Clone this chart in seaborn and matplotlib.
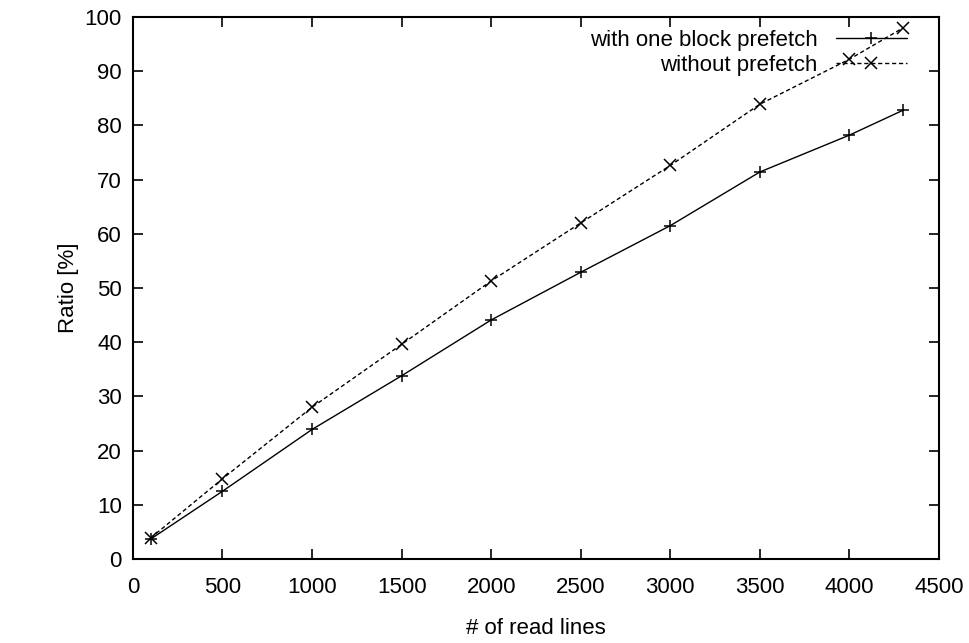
import numpy as np
import matplotlib.pyplot as plt
import seaborn as sns
import pandas as pd

sns.set_style("ticks")
plt.rcParams['font.family'] = ['Liberation Sans', 'DejaVu Sans']
plt.rcParams['text.color'] = 'black'
plt.rcParams['axes.labelcolor'] = 'black'

read_lines = [100, 500, 1000, 1500, 2000, 2500, 3000, 3500, 4000, 4300]
with_prefetch = [3.7, 12.5, 23.9, 33.8, 44.1, 52.9, 61.5, 71.4, 78.2, 82.8]
without_prefetch = [3.9, 14.8, 28.0, 39.6, 51.3, 62.0, 72.6, 83.9, 92.2, 98.0]
labels = ["with one block prefetch", "without prefetch"]

df = pd.DataFrame({"x": read_lines * 2,
                   "y": with_prefetch + without_prefetch,
                   "series": [labels[0]] * len(read_lines) + [labels[1]] * len(read_lines)})

fig = plt.figure(figsize=(9.7, 6.43), dpi=100)
ax = fig.add_axes([0.137, 0.1306, 0.831, 0.843])

sns.lineplot(data=df, x="x", y="y", hue="series", style="series",
             palette=["black", "black"], markers=["+", "x"],
             dashes=[(None, None), (3, 2)], linewidth=1.0, markersize=9,
             markeredgewidth=1.1, markeredgecolor="black", ax=ax)

ax.set_xlim(0, 4500)
ax.set_ylim(0, 100)
ax.set_xticks(np.arange(0, 4501, 500))
ax.set_yticks(np.arange(0, 101, 10))
ax.tick_params(direction="in", length=7, width=1.2, top=True, right=True,
               labelsize=16, colors="black")
ax.tick_params(axis="x", pad=13)
ax.tick_params(axis="y", pad=8)
for s in ax.spines.values():
    s.set_linewidth(1.5)
    s.set_color("black")
ax.set_xlabel("# of read lines", fontsize=16, labelpad=14)
ax.set_ylabel("Ratio [%]", fontsize=16, labelpad=4)

leg = ax.legend(loc="upper right", frameon=False, markerfirst=False,
                fontsize=16, handlelength=3.2, borderaxespad=0.0,
                bbox_to_anchor=(0.971, 0.993),
                labelspacing=0.2, handletextpad=0.8)
for t in leg.get_texts():
    t.set_ha("right")
    t.set_color("black")
leg._legend_box.align = "right"

plt.savefig("out.png", dpi=100)
